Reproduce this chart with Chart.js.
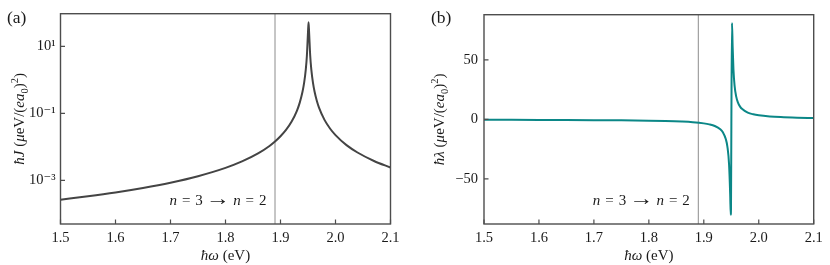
<!DOCTYPE html>
<html><head><meta charset="utf-8">
<script src="https://cdn.jsdelivr.net/npm/chart.js@4"></script>
<style>
html,body{margin:0;padding:0;background:#fff;}
#wrap{position:relative;width:830px;height:265px;overflow:hidden;}
.panel{position:absolute;top:0;width:415px;height:265px;}
#pa{left:0} #pb{left:415px}
</style></head><body>
<div id="wrap"><div class="panel" id="pa"><canvas id="ca" width="415" height="265"></canvas></div><div class="panel" id="pb"><canvas id="cb" width="415" height="265"></canvas></div></div>
<script>
// ---- data ----
const energyJ = [1.50,1.55,1.60,1.65,1.70,1.75,1.80,1.83,1.86,1.88,1.89,1.90,1.91,1.92,1.93,1.935,1.94,1.943,1.946,1.948,1.950,1.951,1.952,1.954,1.956,1.959,1.962,1.966,1.970,1.980,1.990,2.000,2.020,2.040,2.070,2.100];
const valuesJ = [2.65e-4,3.36e-4,4.38e-4,5.96e-4,8.57e-4,1.34e-3,2.37e-3,3.69e-3,6.52e-3,1.07e-2,1.45e-2,2.08e-2,3.21e-2,5.61e-2,0.122,0.210,0.443,0.830,2.07,5.38,26.6,52.4,26.6,5.38,2.07,0.830,0.443,0.239,0.149,0.0641,0.0355,0.0225,0.0113,0.00682,0.00381,0.00243];
const energyL = [1.50,1.55,1.60,1.65,1.70,1.75,1.80,1.83,1.86,1.88,1.90,1.91,1.92,1.93,1.935,1.94,1.943,1.946,1.948,1.949,1.9495,1.9502,1.9513,1.9525,1.954,1.956,1.959,1.962,1.966,1.970,1.980,1.990,2.000,2.020,2.040,2.070,2.100];
const valuesL = [-0.38,-0.43,-0.49,-0.57,-0.68,-0.85,-1.13,-1.41,-1.89,-2.42,-3.39,-4.23,-5.62,-8.39,-11.1,-16.5,-23.1,-38.1,-63.0,-80.3,-74.8,0,81.0,61.2,41.6,28.4,19.1,14.3,10.7,8.6,5.7,4.27,3.41,2.44,1.89,1.42,1.13];
const xTicks = [1.5,1.6,1.7,1.8,1.9,2.0,2.1];
const xTickLabels = ['1.5','1.6','1.7','1.8','1.9','2.0','2.1'];
const jTicks = [1e-3,1e-1,1e1];
const jTickLabels = ['10⁻³','10⁻¹','10¹'];
const lTicks = [-50,0,50];
const lTickLabels = ['−50','0','50'];
const transitionMarker = 1.89;

// ---- styling / helpers ----
const FONT = '"Liberation Serif", "DejaVu Serif", serif';
const TXT = '#1a1a1a';
const SPINE = '#4d4d4d';

function drawRich(ctx, segs, x, y, align, size, rotate) {
  ctx.save();
  ctx.translate(x, y);
  if (rotate) ctx.rotate(-Math.PI / 2);
  ctx.textBaseline = 'alphabetic';
  ctx.textAlign = 'left';
  ctx.fillStyle = TXT;
  let total = 0;
  const items = segs.map(s => {
    const fs = size * (s.scale || 1);
    ctx.font = (s.i ? 'italic ' : '') + fs + 'px ' + (s.f || FONT);
    const w = ctx.measureText(s.t).width * (s.sx || 1);
    const pre = (s.pre || 0) * size, post = (s.post || 0) * size;
    total += pre + w + post;
    return {s, fs, w, pre, post};
  });
  let cx = align === 'center' ? -total / 2 : (align === 'right' ? -total : 0);
  const base = size * 0.35;
  for (const it of items) {
    ctx.font = (it.s.i ? 'italic ' : '') + it.fs + 'px ' + (it.s.f || FONT);
    cx += it.pre;
    ctx.save();
    ctx.translate(cx, base + (it.s.dy || 0) * size);
    ctx.scale(it.s.sx || 1, 1);
    ctx.fillText(it.s.t, 0, 0);
    ctx.restore();
    cx += it.w + it.post;
  }
  ctx.restore();
}

const annot = [{t:'n',i:1},{t:'=',pre:0.33,post:0.33},{t:'3'},{t:'→',pre:0.2,post:0.2,scale:1.35,sx:1.2,dy:0.03},{t:'n',i:1},{t:'=',pre:0.33,post:0.33},{t:'2'}];
const xTitle = [{t:'ħω',i:1},{t:' (eV)'}];
function yTitle(sym) {
  return [{t:'ħ' + sym,i:1},{t:' ('},{t:'μ',i:1},{t:'eV/('},{t:'ea',i:1},{t:'0',scale:0.7,dy:0.25},{t:')'},{t:'2',scale:0.7,dy:-0.4},{t:')'}];
}

function framePlugin(cfg) {
  return {
    id: 'frame' + cfg.label,
    beforeDatasetsDraw(chart) {
      const {ctx, chartArea: a, scales} = chart;
      const px = scales.x.getPixelForValue(transitionMarker);
      ctx.save();
      ctx.strokeStyle = '#8c8c8c';
      ctx.lineWidth = 1;
      ctx.beginPath(); ctx.moveTo(px, a.top); ctx.lineTo(px, a.bottom); ctx.stroke();
      ctx.restore();
    },
    afterDraw(chart) {
      const {ctx, chartArea: a, scales} = chart;
      ctx.save();
      ctx.strokeStyle = SPINE;
      ctx.lineWidth = 1.4;
      ctx.strokeRect(a.left, a.top, a.right - a.left, a.bottom - a.top);
      ctx.lineWidth = 1.2;
      ctx.beginPath();
      for (const t of scales.x.ticks) {
        const p = scales.x.getPixelForValue(t.value);
        ctx.moveTo(p, a.bottom); ctx.lineTo(p, a.bottom - 4.5);
      }
      for (const t of scales.y.ticks) {
        const p = scales.y.getPixelForValue(t.value);
        ctx.moveTo(a.left, p); ctx.lineTo(a.left + 4.5, p);
      }
      ctx.stroke();
      ctx.restore();
      const px = scales.x.getPixelForValue(transitionMarker);
      drawRich(ctx, annot, px - 8.5, 199.5, 'right', 15, false);
      drawRich(ctx, xTitle, (a.left + a.right) / 2, 254.5, 'center', 15, false);
      drawRich(ctx, yTitle(cfg.sym), cfg.yTitleX, (a.top + a.bottom) / 2, 'center', 15, true);
      drawRich(ctx, [{t:cfg.label}], cfg.labelX, 16.5, 'left', 17.5, false);
    }
  };
}

function makeChart(id, cfg) {
  return new Chart(document.getElementById(id), {
    type: 'scatter',
    data: {datasets: [{
      data: cfg.xs.map((x, i) => ({x, y: cfg.ys[i]})),
      showLine: true, pointRadius: 0, borderColor: cfg.color, borderWidth: 2,
      cubicInterpolationMode: 'monotone', fill: false
    }]},
    options: {
      responsive: false, animation: false, devicePixelRatio: 1,
      layout: {padding: cfg.padding},
      plugins: {legend: {display: false}, tooltip: {enabled: false}},
      scales: {
        x: {
          type: 'linear', min: 1.5, max: 2.1,
          afterBuildTicks: s => { s.ticks = xTicks.map(v => ({value: v})); },
          afterFit: s => { s.height = 41; },
          ticks: {callback: (v) => xTickLabels[xTicks.indexOf(v)] ?? '', font: {family: FONT, size: 14.5}, color: TXT, padding: 5, maxRotation: 0, autoSkip: false},
          grid: {display: false, drawTicks: false}, border: {display: false}
        },
        y: Object.assign({
          afterFit: s => { s.width = cfg.yWidth; },
          ticks: {callback: (v) => { const k = cfg.yTicks.indexOf(v); return k >= 0 ? cfg.yLabels[k] : ''; }, font: {family: FONT, size: 14.5}, color: TXT, padding: cfg.yPad, autoSkip: false},
          afterBuildTicks: s => { s.ticks = cfg.yTicks.map(v => ({value: v})); },
          grid: {display: false, drawTicks: false}, border: {display: false}
        }, cfg.yScale)
      }
    },
    plugins: [framePlugin(cfg)]
  });
}

makeChart('ca', {
  xs: energyJ, ys: valuesJ, color: '#444444', label: '(a)', sym: 'J',
  padding: {left: 10, right: 24.5, top: 3, bottom: 0}, yWidth: 50.5, yPad: 5,
  yTicks: jTicks, yLabels: jTickLabels, yTitleX: 19, labelX: 7,
  yScale: {type: 'logarithmic', min: 5e-5, max: 95}
});
makeChart('cb', {
  xs: energyL, ys: valuesL, color: '#0b8787', label: '(b)', sym: 'λ',
  padding: {left: 18, right: 16.3, top: 3, bottom: 0}, yWidth: 51, yPad: 6,
  yTicks: lTicks, yLabels: lTickLabels, yTitleX: 24, labelX: 16,
  yScale: {type: 'linear', min: -88, max: 88}
});
</script>
</body></html>
